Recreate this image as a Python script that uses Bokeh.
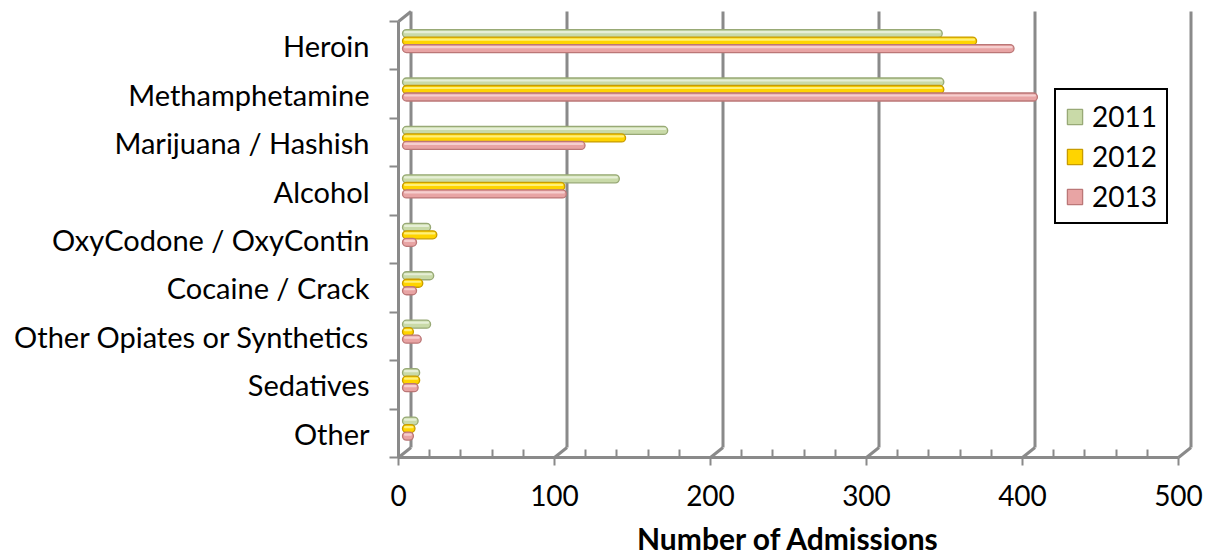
from bokeh.plotting import figure
from bokeh.models import (Range1d, FixedTicker, ColumnDataSource, Legend,
                          LegendItem, Label)
from bokeh.transform import dodge
from bokeh.embed import file_html
from bokeh.resources import INLINE

# Treatment admissions by primary substance, 2011-2013
categories = ["Heroin", "Methamphetamine", "Marijuana / Hashish", "Alcohol",
              "OxyCodone / OxyContin", "Cocaine / Crack",
              "Other Opiates or Synthetics", "Sedatives", "Other"]
years = ["2011", "2012", "2013"]
admissions_2011 = [346, 347, 170, 139, 18, 20, 18, 11, 10]
admissions_2012 = [368, 347, 143, 104, 22, 13, 7, 11, 8]
admissions_2013 = [392, 407, 117, 105, 9, 9, 12, 10, 7]
x_ticks = [0, 100, 200, 300, 400, 500]
x_minor_ticks = [20, 40, 60, 80, 120, 140, 160, 180, 220, 240, 260, 280,
                 320, 340, 360, 380, 420, 440, 460, 480]
axis_title = "Number of Admissions"

FONT = "Lato"
GRAY = "#8a8a8a"
W, H = 1208, 556

# pixel scale of the chart area; the plot frame spans the whole canvas
PX_X = 1.56     # pixels per admission
PX_Y = 48.44    # pixels per category band
ORIGIN_X = 398  # canvas position of (0, 0) on the front floor
ORIGIN_Y = 457

# 3-D depth of the back wall, in data units
DEPTH_X = 12.5 / PX_X
DEPTH_Y = 10 / PX_Y
BAR_SHIFT = 4 / PX_X

n = len(categories)
cat_pos = [n - 0.5 - i for i in range(n)]

p = figure(width=W, height=H,
           x_range=Range1d(-ORIGIN_X / PX_X, (W - ORIGIN_X) / PX_X),
           y_range=Range1d(-(H - ORIGIN_Y) / PX_Y, ORIGIN_Y / PX_Y),
           output_backend="svg", toolbar_location=None, min_border=0)
p.outline_line_color = None
p.grid.visible = False
p.background_fill_color = "white"
p.border_fill_color = "white"

# back wall: vertical gridlines and floor diagonals
wall_x = [v + DEPTH_X for v in x_ticks]
p.segment(x0=wall_x, y0=[DEPTH_Y] * len(x_ticks), x1=wall_x,
          y1=[n + DEPTH_Y] * len(x_ticks), line_color=GRAY, line_width=3)
p.segment(x0=x_ticks, y0=[0] * len(x_ticks), x1=wall_x,
          y1=[DEPTH_Y] * len(x_ticks), line_color=GRAY, line_width=3)
# left wall top edge and front axis lines
p.segment(x0=[0], y0=[n], x1=[DEPTH_X], y1=[n + DEPTH_Y],
          line_color=GRAY, line_width=3)
p.segment(x0=[0, 0], y0=[0, 0], x1=[0, x_ticks[-1]], y1=[n, 0],
          line_color=GRAY, line_width=3)

# cylinder-like bars
series = [
    ("2011", admissions_2011, 0.252, "#c9daa8", "#98a976", "#e6efd6"),
    ("2012", admissions_2012, 0.097, "#ffd400", "#c89c00", "#fff07a"),
    ("2013", admissions_2013, -0.058, "#e8a4a4", "#bb7777", "#f6cfcf"),
]
bar_h = 8 / PX_Y
items = []
for label, vals, off, fill, edge, shine in series:
    src = ColumnDataSource(dict(y=cat_pos, value=vals))
    r = p.hbar(y=dodge("y", off), left=BAR_SHIFT,
               right=dodge("value", BAR_SHIFT), height=bar_h, source=src,
               fill_color=fill, line_color=edge, line_width=1.3,
               border_radius=4)
    p.hbar(y=dodge("y", off + 1.5 / PX_Y), left=BAR_SHIFT + 1.5 / PX_X,
           right=dodge("value", BAR_SHIFT - 1.5 / PX_X), height=2.2 / PX_Y,
           source=src, fill_color=shine, line_color=None, border_radius=1)
    items.append(LegendItem(label=label, renderers=[r]))

# axes, pinned to the front floor and front left edge
xa = p.xaxis[0]
xa.fixed_location = 0
xa.ticker = FixedTicker(ticks=x_ticks, minor_ticks=x_minor_ticks)
xa.axis_line_color = None
xa.major_tick_out = 8
xa.major_tick_in = 0
xa.minor_tick_in = 8
xa.minor_tick_out = 0
xa.major_tick_line_color = GRAY
xa.minor_tick_line_color = GRAY
xa.major_tick_line_width = 2
xa.minor_tick_line_width = 2
xa.major_label_text_font = FONT
xa.major_label_text_font_size = "28px"
xa.major_label_text_color = "black"
xa.major_label_standoff = 19

ya = p.yaxis[0]
ya.fixed_location = 0
ya.ticker = FixedTicker(ticks=cat_pos, minor_ticks=list(range(n + 1)))
ya.major_label_overrides = {pos: name for pos, name in zip(cat_pos, categories)}
ya.axis_line_color = None
ya.major_tick_out = 0
ya.major_tick_in = 0
ya.minor_tick_out = 9
ya.minor_tick_in = 0
ya.minor_tick_line_color = GRAY
ya.minor_tick_line_width = 2
ya.major_label_standoff = 20
ya.major_label_text_font = FONT
ya.major_label_text_font_size = "29px"
ya.major_label_text_color = "black"

# axis title, centred under the 0-500 scale
p.add_layout(Label(x=(x_ticks[0] + x_ticks[-1]) / 2, y=-80 / PX_Y,
                   text=axis_title, text_align="center",
                   text_baseline="middle", text_font=FONT,
                   text_font_size="30px", text_font_style="bold",
                   text_color="black"))

legend = Legend(items=items, location=(1054, H - 224))
legend.label_text_font = FONT
legend.label_text_font_size = "28px"
legend.label_text_color = "black"
legend.glyph_width = 19
legend.glyph_height = 19
legend.label_standoff = 8
legend.spacing = 6
legend.padding = 9
legend.margin = 0
legend.border_line_color = "black"
legend.border_line_alpha = 1
legend.border_line_width = 2
legend.background_fill_color = "white"
legend.background_fill_alpha = 1
p.add_layout(legend)

open("out.html", "w").write(file_html(p, INLINE))
